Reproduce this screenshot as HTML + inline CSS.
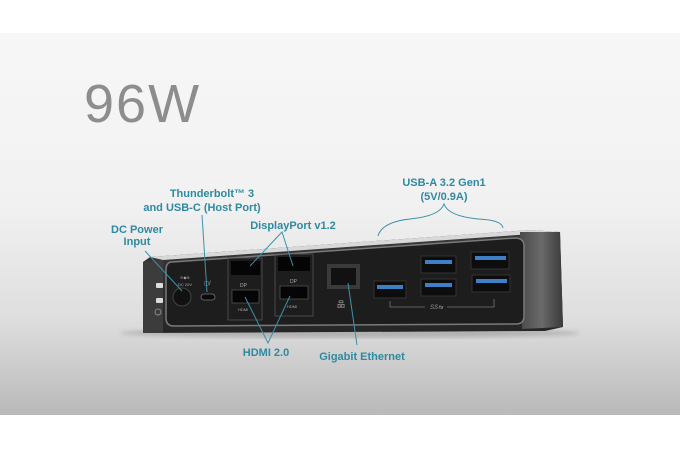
<!DOCTYPE html>
<html><head><meta charset="utf-8"><style>
html,body{margin:0;padding:0;background:#fff;}
body{width:680px;height:449px;overflow:hidden;position:relative;font-family:"Liberation Sans",sans-serif;}
.bg{position:absolute;left:0;top:33px;width:680px;height:382px;background:linear-gradient(#f7f7f7 0%,#f1f1f1 45%,#dedede 75%,#b9b9b9 100%);}
svg{position:absolute;left:0;top:0;}
</style></head><body>
<div class="bg"></div>
<svg width="680" height="449" viewBox="0 0 680 449">
<defs>
<linearGradient id="side" x1="0" x2="1"><stop offset="0" stop-color="#4a4a4a"/><stop offset="0.5" stop-color="#6a6a6a"/><stop offset="1" stop-color="#3a3a3a"/></linearGradient>
<linearGradient id="body" x1="0" y1="0" x2="0" y2="1"><stop offset="0" stop-color="#3a3a3a"/><stop offset="1" stop-color="#262626"/></linearGradient>
<filter id="glow"><feGaussianBlur stdDeviation="2"/></filter>
</defs>
<text x="84" y="122" font-size="54" fill="#8d8d8d" font-family="Liberation Sans" letter-spacing="2">96W</text>
<!-- floor shadow -->
<ellipse cx="350" cy="333" rx="230" ry="5" fill="#8a8a8a" opacity="0.5" filter="url(#glow)"/>
<!-- body -->
<polygon points="143,262 150,257 530,230 560,232 563,327 545,331 143,333" fill="url(#body)"/>
<polygon points="150,257 530,230 560,232 163,260" fill="#d8d8d8"/>
<polygon points="520,232 560,232 563,327 522,329" fill="url(#side)"/>
<polygon points="143,262 163,260 163,333 143,333" fill="#3c3c3c"/>
<!-- panel -->
<path d="M172,262 L515,238 Q524,238 524,246 L524,316 Q524,324 516,324 L174,326 Q166,326 166,318 L166,270 Q166,262 172,262Z" fill="#1d1d1d" stroke="#7a7a7a" stroke-width="1.5"/>
<!-- left side marks -->
<rect x="156" y="283" width="7" height="5" fill="#ddd" rx="1"/>
<rect x="156" y="298" width="7" height="5" fill="#ddd" rx="1"/>
<circle cx="158" cy="312" r="3" fill="none" stroke="#888" stroke-width="1"/>
<!-- DC -->
<circle cx="182" cy="297" r="9" fill="#111" stroke="#444"/>
<text x="180" y="279" font-size="4" fill="#aaa">⊖◆⊕</text>
<text x="178" y="286" font-size="4" fill="#aaa">DC 20V</text>
<!-- USB-C -->
<rect x="201" y="294" width="14" height="6" rx="3" fill="#0a0a0a" stroke="#777" stroke-width="0.8"/>
<text x="204" y="285" font-size="6" fill="#aaa">◻/</text>
<!-- DP/HDMI groups -->
<rect x="228" y="258" width="34" height="62" fill="none" stroke="#555" stroke-width="0.8"/>
<rect x="231" y="261" width="29" height="14" fill="#050505"/>
<text x="240" y="287" font-size="5" fill="#aaa">DP</text>
<rect x="232" y="290" width="27" height="13" fill="#050505" stroke="#666" stroke-width="0.6"/>
<text x="238" y="311" font-size="4" fill="#aaa">HDMI</text>
<rect x="275" y="254" width="38" height="62" fill="none" stroke="#555" stroke-width="0.8"/>
<rect x="278" y="257" width="32" height="14" fill="#050505"/>
<text x="290" y="283" font-size="5" fill="#aaa">DP</text>
<rect x="280" y="286" width="28" height="13" fill="#050505" stroke="#666" stroke-width="0.6"/>
<text x="287" y="308" font-size="4" fill="#aaa">HDMI</text>
<!-- RJ45 -->
<rect x="327" y="264" width="33" height="25" fill="#3a3a3a"/>
<rect x="331" y="268" width="25" height="17" fill="#111"/>
<text x="337" y="307" font-size="8" fill="#aaa">品</text>
<!-- USB-A -->
<g fill="#0d0d0d" stroke="#333">
<rect x="374" y="281" width="32" height="17"/>
<rect x="421" y="256" width="35" height="17"/>
<rect x="421" y="279" width="35" height="17"/>
<rect x="471" y="252" width="38" height="17"/>
<rect x="472" y="275" width="38" height="17"/>
</g>
<g fill="#3f7fc6">
<rect x="377" y="285" width="26" height="4"/>
<rect x="425" y="260" width="27" height="4"/>
<rect x="425" y="283" width="27" height="4"/>
<rect x="475" y="256" width="31" height="4"/>
<rect x="476" y="279" width="31" height="4"/>
</g>
<path d="M390,301 V307 H425 M447,307 H494 V299" fill="none" stroke="#777" stroke-width="0.8"/>
<text x="430" y="309" font-size="6" fill="#999" font-style="italic">SS⇆</text>
<!-- leaders -->
<g stroke="#3a93a8" stroke-width="1" fill="none">
<line x1="145" y1="251" x2="182" y2="291"/>
<line x1="202" y1="215" x2="207" y2="292"/>
<polyline points="250,266 282,232 293,266"/>
<polyline points="245,297 268,343 290,296"/>
<line x1="348" y1="283" x2="357" y2="345"/>
<path d="M378,236 Q382,222 410,219 Q440,216 444,204 Q448,216 478,219 Q502,220 503,228"/>
</g>
<g font-family="Liberation Sans" font-weight="bold" font-size="11" fill="#2e8aa1" text-anchor="middle">
<text x="212" y="197">Thunderbolt™ 3</text>
<text x="202" y="211">and USB-C (Host Port)</text>
<text x="137" y="233">DC Power</text>
<text x="137" y="245">Input</text>
<text x="293" y="229">DisplayPort v1.2</text>
<text x="444" y="186">USB-A 3.2 Gen1</text>
<text x="444" y="200">(5V/0.9A)</text>
<text x="266" y="356">HDMI 2.0</text>
<text x="362" y="360">Gigabit Ethernet</text>
</g>
</svg>
</body></html>
